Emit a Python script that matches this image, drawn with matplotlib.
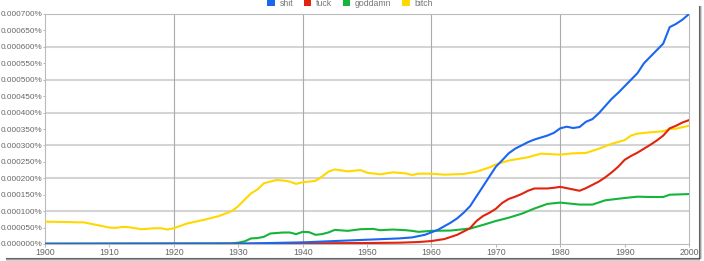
import matplotlib
matplotlib.use("Agg")
import matplotlib.pyplot as plt
from matplotlib.patches import Patch
from matplotlib.lines import Line2D
from matplotlib.ticker import FuncFormatter, MultipleLocator

plt.rcParams["font.family"] = ["Liberation Sans", "DejaVu Sans"]

# Ngram frequencies (percent)
shit_years = [1900, 1930, 1935, 1940, 1945, 1950, 1955, 1957, 1959, 1961, 1963, 1964, 1965,
              1966, 1967, 1968, 1969, 1970, 1971, 1972, 1973, 1974, 1975, 1976, 1977, 1978,
              1979, 1980, 1981, 1982, 1983, 1984, 1985, 1986, 1987, 1988, 1989, 1990, 1991,
              1992, 1993, 1994, 1995, 1996, 1997, 1998, 1999, 2000]
shit = [0.0000005, 0.000001, 0.000003, 0.000005, 0.000009, 0.000013, 0.000017, 0.00002,
        0.000028, 0.000043, 0.000065, 0.000078, 0.000095, 0.000115, 0.000145, 0.000175,
        0.000205, 0.000235, 0.000255, 0.000276, 0.00029, 0.0003, 0.00031, 0.000318,
        0.000324, 0.00033, 0.000338, 0.000352, 0.000357, 0.000353, 0.000356, 0.000372,
        0.00038, 0.000398, 0.00042, 0.000442, 0.00046, 0.00048, 0.0005, 0.00052, 0.00055,
        0.00057, 0.00059, 0.00061, 0.00066, 0.00067, 0.000683, 0.0007]

fuck_years = [1900, 1928, 1940, 1950, 1955, 1958, 1960, 1962, 1964, 1966, 1967, 1968, 1969,
              1970, 1971, 1972, 1973, 1974, 1975, 1976, 1977, 1978, 1979, 1980, 1981, 1982,
              1983, 1984, 1985, 1986, 1987, 1988, 1989, 1990, 1991, 1992, 1993, 1994, 1995,
              1996, 1997, 1998, 1999, 2000]
fuck = [0.0000003, 0.0000005, 0.000002, 0.000003, 0.000004, 0.000006, 0.000009, 0.000015,
        0.000028, 0.000048, 0.00007, 0.000085, 0.000095, 0.000107, 0.000125, 0.000137,
        0.000144, 0.000152, 0.000162, 0.000169, 0.000169, 0.000169, 0.000171, 0.000174,
        0.00017, 0.000166, 0.000162, 0.00017, 0.00018, 0.00019, 0.000203, 0.000218,
        0.000235, 0.000256, 0.000268, 0.000278, 0.00029, 0.000302, 0.000315, 0.00033,
        0.000352, 0.00036, 0.00037, 0.000377]

goddamn_years = [1900, 1929, 1930, 1931, 1932, 1933, 1934, 1935, 1937, 1938, 1939, 1940, 1941,
                 1942, 1943, 1944, 1945, 1947, 1949, 1951, 1952, 1954, 1956, 1957, 1958,
                 1960, 1963, 1966, 1968, 1970, 1972, 1974, 1976, 1978, 1980, 1982, 1983,
                 1985, 1987, 1990, 1992, 1994, 1996, 1997, 2000]
goddamn = [0.000001, 0.000002, 0.000004, 0.000008, 0.000017, 0.000018, 0.000022, 0.000032,
           0.000035, 0.000035, 0.00003, 0.000037, 0.000036, 0.000028, 0.00003, 0.000035,
           0.000043, 0.00004, 0.000045, 0.000046, 0.000042, 0.000044, 0.000042, 0.00004,
           0.000037, 0.00004, 0.000041, 0.000047, 0.000058, 0.00007, 0.00008, 0.000092,
           0.000108, 0.000122, 0.000126, 0.000122, 0.00012, 0.00012, 0.000133, 0.00014,
           0.000144, 0.000143, 0.000143, 0.00015, 0.000152]

bitch_years = [1900, 1903, 1905, 1906, 1908, 1910, 1911, 1912, 1913, 1915, 1917, 1918, 1919,
               1920, 1922, 1925, 1927, 1929, 1930, 1931, 1932, 1933, 1934, 1936, 1937, 1938,
               1939, 1940, 1942, 1943, 1944, 1945, 1947, 1949, 1950, 1952, 1954, 1956, 1957,
               1958, 1960, 1962, 1965, 1967, 1969, 1970, 1972, 1975, 1977, 1980, 1982, 1984,
               1986, 1988, 1990, 1991, 1992, 1994, 1996, 1997, 1998, 2000]
bitch = [0.000068, 0.000067, 0.000066, 0.000066, 0.000058, 0.00005, 0.000049, 0.000052,
         0.000051, 0.000045, 0.000048, 0.000048, 0.000044, 0.000048, 0.000062, 0.000075,
         0.000085, 0.0001, 0.000115, 0.000135, 0.000154, 0.000166, 0.000185, 0.000195,
         0.000193, 0.00019, 0.000183, 0.000188, 0.000192, 0.000205, 0.00022, 0.000227,
         0.000221, 0.000225, 0.000217, 0.000212, 0.000218, 0.000215, 0.00021, 0.000214,
         0.000214, 0.000211, 0.000213, 0.00022, 0.000233, 0.000242, 0.000254, 0.000264,
         0.000275, 0.000272, 0.000276, 0.000277, 0.00029, 0.000305, 0.000316, 0.00033,
         0.000336, 0.00034, 0.000343, 0.00035, 0.000351, 0.00036]

labels = ["shit", "fuck", "goddamn", "bitch"]
colors = ["#1a66f0", "#e0240e", "#14b53a", "#ffd800"]

fig = plt.figure(figsize=(7.04, 2.61), dpi=100)
ax = fig.add_axes([45 / 704, 1 - 244 / 261, 644 / 704, 230 / 261])

# grid: light horizontal every 0.0001, darker vertical every 20 years
for v in [0.0001, 0.0002, 0.0003, 0.0004, 0.0005, 0.0006]:
    ax.axhline(v, color="#d4d4d4", lw=1.5, zorder=0)
for yr in [1920, 1940, 1960, 1980]:
    ax.axvline(yr, color="#aaaaaa", lw=0.8, zorder=0)

series = [(shit_years, shit), (fuck_years, fuck), (goddamn_years, goddamn), (bitch_years, bitch)]
# draw yellow first so the others sit on top like in the original
for idx in [3, 2, 1, 0]:
    xs, ys = series[idx]
    ax.plot(xs, ys, color=colors[idx], lw=1.5, solid_joinstyle="round", zorder=3)

ax.set_xlim(1900, 2000)
ax.set_ylim(0, 0.0007)
ax.xaxis.set_major_locator(MultipleLocator(10))
ax.yaxis.set_major_locator(MultipleLocator(0.00005))
ax.yaxis.set_major_formatter(FuncFormatter(lambda v, p: f"{v:.6f}%"))
ax.tick_params(axis="both", labelsize=6.3, labelcolor="#666666", color="#aaaaaa",
               length=2, width=0.6, pad=1)
ax.tick_params(axis="y", labelsize=5.9, length=1.5, pad=0.3)
for s in ax.spines.values():
    s.set_color("#bbbbbb")
    s.set_linewidth(0.8)

handles = [Patch(facecolor=c, edgecolor="none") for c in colors]
fig.legend(handles, labels, loc="upper center", bbox_to_anchor=(0.497, 1.035), ncol=4,
           frameon=False, fontsize=6.3, labelcolor="#777777", handlelength=0.9,
           handleheight=0.9, handletextpad=0.5, columnspacing=1.2)

# drop shadow along right and bottom edges
for i, a in enumerate([0.75, 0.45, 0.2]):
    fig.add_artist(Line2D([(698.5 + i) / 704] * 2, [1 - 258 / 261, 1 - 6 / 261],
                          transform=fig.transFigure, color="#333333", alpha=a, lw=0.8))
    fig.add_artist(Line2D([6 / 704, 699 / 704], [1 - (257.5 + i) / 261] * 2,
                          transform=fig.transFigure, color="#333333", alpha=a, lw=0.8))

fig.savefig("out.png", dpi=100)
